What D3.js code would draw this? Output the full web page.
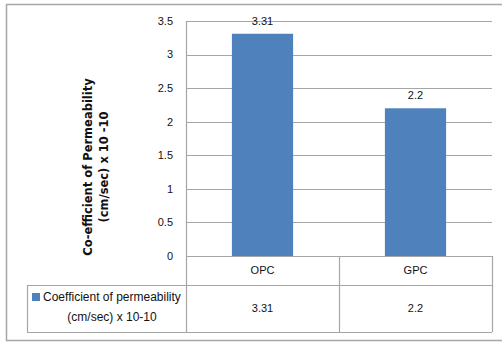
<!DOCTYPE html>
<html>
<head>
<meta charset="utf-8">
<script src="https://cdn.jsdelivr.net/npm/d3@7"></script>
<style>
  body { margin: 0; background: #fff; }
  text { font-family: "Liberation Sans", Arial, sans-serif; fill: #111; }
</style>
</head>
<body>
<svg id="chart" width="502" height="343"></svg>
<script>
// chart data
var categories = [ "OPC", "GPC" ];
var values = [ 3.31, 2.2 ];
var seriesName = [ "Coefficient of permeability", "(cm/sec) x 10-10" ];
var yTicks = [ 0, 0.5, 1, 1.5, 2, 2.5, 3, 3.5 ];
var yTitle = [ "Co-efficient of Permeability", "(cm/sec) x 10 -10" ];

window.addEventListener( "load", makeChart );
function makeChart() {
    var svg = d3.select( "#chart" );
    var left = 186, right = 492, top = 21, bottom = 256;
    var row1 = 285, row2 = 332, legLeft = 27;
    var grid = "#a6a6a6", blue = "#4f81bd";

    var x = d3.scaleBand().domain( categories ).range( [ left, right ] );
    var y = d3.scaleLinear().domain( [ 0, 3.5 ] ).range( [ bottom, top ] );

    // outer frame
    svg.append( "rect" )
        .attr( "x", 6.5 ).attr( "y", 4.5 ).attr( "width", 500 ).attr( "height", 336 )
        .attr( "fill", "none" ).attr( "stroke", grid ).attr( "stroke-width", 1.5 );

    // gridlines
    svg.selectAll( "line.grid" ).data( yTicks.slice(1) ).enter().append( "line" )
        .attr( "class", "grid" )
        .attr( "x1", left ).attr( "x2", right )
        .attr( "y1", d => Math.round( y(d) ) + 0.5 ).attr( "y2", d => Math.round( y(d) ) + 0.5 )
        .attr( "stroke", grid ).attr( "stroke-width", 1.2 );

    // y tick labels
    svg.selectAll( "text.tick" ).data( yTicks ).enter().append( "text" )
        .attr( "class", "tick" )
        .attr( "x", 173 ).attr( "y", d => y(d) ).attr( "dy", "0.35em" )
        .attr( "text-anchor", "end" ).style( "font-size", "11px" )
        .text( d => d );

    // bars
    var bw = x.bandwidth() * 0.4;
    svg.selectAll( "rect.bar" ).data( values ).enter().append( "rect" )
        .attr( "class", "bar" )
        .attr( "x", (d,i) => x( categories[i] ) + ( x.bandwidth() - bw ) / 2 )
        .attr( "y", d => y(d) ).attr( "width", bw ).attr( "height", d => y(0) - y(d) )
        .attr( "fill", blue );

    // data labels
    svg.selectAll( "text.val" ).data( values ).enter().append( "text" )
        .attr( "class", "val" )
        .attr( "x", (d,i) => x( categories[i] ) + x.bandwidth() / 2 )
        .attr( "y", d => y(d) - 13 ).attr( "dy", "0.35em" )
        .attr( "text-anchor", "middle" ).style( "font-size", "11px" )
        .text( d => d );

    // y axis line
    svg.append( "line" )
        .attr( "x1", left + 0.5 ).attr( "x2", left + 0.5 ).attr( "y1", top ).attr( "y2", row2 )
        .attr( "stroke", grid ).attr( "stroke-width", 1.2 );

    // data table
    var hl = [ [ left, bottom ], [ legLeft, row1 ], [ legLeft, row2 ] ];
    svg.selectAll( "line.hrow" ).data( hl ).enter().append( "line" )
        .attr( "class", "hrow" )
        .attr( "x1", d => d[0] ).attr( "x2", right )
        .attr( "y1", d => d[1] + 0.5 ).attr( "y2", d => d[1] + 0.5 )
        .attr( "stroke", grid ).attr( "stroke-width", 1.2 );
    var vl = [ [ legLeft, row1 ], [ x( categories[1] ), bottom ], [ right, bottom ] ];
    svg.selectAll( "line.vcol" ).data( vl ).enter().append( "line" )
        .attr( "class", "vcol" )
        .attr( "x1", d => d[0] + 0.5 ).attr( "x2", d => d[0] + 0.5 )
        .attr( "y1", d => d[1] ).attr( "y2", row2 )
        .attr( "stroke", grid ).attr( "stroke-width", 1.2 );

    svg.selectAll( "text.cat" ).data( categories ).enter().append( "text" )
        .attr( "class", "cat" )
        .attr( "x", d => x(d) + x.bandwidth() / 2 ).attr( "y", ( bottom + row1 ) / 2 )
        .attr( "dy", "0.35em" ).attr( "text-anchor", "middle" ).style( "font-size", "11px" )
        .text( d => d );

    svg.selectAll( "text.cell" ).data( values ).enter().append( "text" )
        .attr( "class", "cell" )
        .attr( "x", (d,i) => x( categories[i] ) + x.bandwidth() / 2 ).attr( "y", ( row1 + row2 ) / 2 )
        .attr( "dy", "0.35em" ).attr( "text-anchor", "middle" ).style( "font-size", "11px" )
        .text( d => d );

    // legend key + series name
    svg.append( "rect" )
        .attr( "x", 32 ).attr( "y", 293 ).attr( "width", 8 ).attr( "height", 8 )
        .attr( "fill", blue );
    svg.append( "text" )
        .attr( "x", 43 ).attr( "y", 297 ).attr( "dy", "0.35em" ).style( "font-size", "12px" )
        .text( seriesName[0] );
    svg.append( "text" )
        .attr( "x", 112 ).attr( "y", 317 ).attr( "dy", "0.35em" ).attr( "text-anchor", "middle" )
        .style( "font-size", "12px" )
        .text( seriesName[1] );

    // y axis title
    var t = svg.append( "text" )
        .attr( "transform", "translate(96,167) rotate(-90)" )
        .attr( "text-anchor", "middle" )
        .style( "font-size", "11.5px" ).style( "font-weight", "bold" )
        .style( "font-family", "'DejaVu Sans', sans-serif" );
    t.selectAll( "tspan" ).data( yTitle ).enter().append( "tspan" )
        .attr( "x", 0 ).attr( "y", (d,i) => i * 16 - 4 )
        .text( d => d );
}
</script>
</body>
</html>
